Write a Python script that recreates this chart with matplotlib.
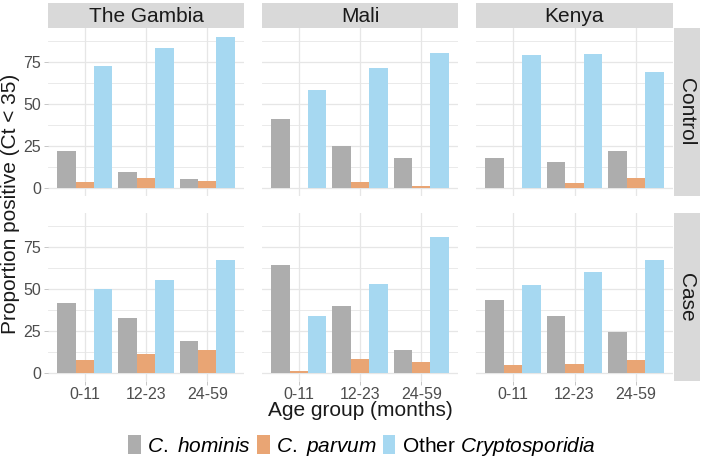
import matplotlib
matplotlib.use("Agg")
import matplotlib.pyplot as plt
from matplotlib.patches import Patch, Rectangle
import numpy as np

plt.rcParams['font.family'] = ['Liberation Sans', 'DejaVu Sans']
plt.rcParams['mathtext.fontset'] = 'custom'
plt.rcParams['mathtext.rm'] = 'Liberation Sans'
plt.rcParams['mathtext.it'] = 'Liberation Sans:italic'

countries = ["The Gambia", "Mali", "Kenya"]
statuses = ["Control", "Case"]
age_groups = ["0-11", "12-23", "24-59"]
species = ["C. hominis", "C. parvum", "Other Cryptosporidia"]
species_labels = [r"$\mathit{C.\ hominis}$", r"$\mathit{C.\ parvum}$",
                  r"Other $\mathit{Cryptosporidia}$"]
colors = ["#ADADAD", "#E9A574", "#A6D8F1"]

# values[status][country] = [hominis list, parvum list, other list] per age group
control_gambia = [[22, 10, 5.8], [3.6, 6.3, 4.2], [73, 83.5, 89.7]]
control_mali = [[41, 25.2, 18], [0.5, 3.6, 1.2], [58.3, 71.4, 80.7]]
control_kenya = [[17.9, 15.5, 22], [0, 3, 6], [79.2, 80.1, 69]]
case_gambia = [[41.9, 33.1, 19.2], [8.1, 11.3, 13.7], [50.2, 55.6, 67.1]]
case_mali = [[64.7, 40.3, 14], [1.4, 8.5, 6.9], [34.3, 53.4, 81.3]]
case_kenya = [[43.8, 33.9, 24.6], [5.2, 5.4, 8.1], [52.6, 60.1, 67.5]]

data = {
    "Control": [control_gambia, control_mali, control_kenya],
    "Case": [case_gambia, case_mali, case_kenya],
}

W, H = 702, 461
fig = plt.figure(figsize=(W / 100, H / 100), dpi=100)

def rect(x0, y0, x1, y1):
    return [x0 / W, 1 - y1 / H, (x1 - x0) / W, (y1 - y0) / H]

col_x = [(48, 244), (262, 458), (476, 673)]
row_y = [(28, 196), (213, 381)]

grid_col = "#E6E6E6"
tick_col = "#4D4D4D"
x = np.arange(1, len(age_groups) + 1)
bw = 0.3
offsets = [-0.3, 0.0, 0.3]

for r, status in enumerate(statuses):
    for c, country in enumerate(countries):
        x0, x1 = col_x[c]
        y0, y1 = row_y[r]
        ax = fig.add_axes(rect(x0, y0, x1, y1))
        vals = data[status][c]
        for s in range(3):
            ax.bar(x + offsets[s], vals[s], width=bw, color=colors[s], zorder=3)
        ax.set_xlim(0.4, 3.6)
        ax.set_ylim(-4.5, 95.3)
        ax.set_yticks([0, 25, 50, 75])
        ax.set_yticks([12.5, 37.5, 62.5, 87.5], minor=True)
        ax.set_xticks(x)
        ax.grid(True, which="major", color=grid_col, lw=0.9, zorder=0)
        ax.grid(True, which="minor", axis="y", color=grid_col, lw=0.6, zorder=0)
        for sp in ax.spines.values():
            sp.set_visible(False)
        ax.tick_params(which="minor", length=0)
        ax.tick_params(which="major", length=3, color="#BDBDBD", width=0.6,
                       labelsize=11.5, labelcolor=tick_col, pad=2)
        ax.tick_params(axis="x", pad=1)
        if c == 0:
            ax.set_yticklabels(["0", "25", "50", "75"])
        else:
            ax.tick_params(axis="y", labelleft=False, length=0)
        if r == 1:
            ax.set_xticklabels(age_groups)
        else:
            ax.tick_params(axis="x", labelbottom=False, length=0)
        if r == 0:
            sax = fig.add_axes(rect(x0, 3, x1, 28))
            sax.set_facecolor("#D9D9D9")
            sax.set_xticks([]); sax.set_yticks([])
            for sp in sax.spines.values():
                sp.set_visible(False)
            sax.text(0.5, 0.47, country, ha="center", va="center", fontsize=15,
                     color="#1A1A1A", transform=sax.transAxes)
    y0, y1 = row_y[r]
    rax = fig.add_axes(rect(674, y0, 700, y1))
    rax.set_facecolor("#D9D9D9")
    rax.set_xticks([]); rax.set_yticks([])
    for sp in rax.spines.values():
        sp.set_visible(False)
    rax.text(0.5, 0.5, status, ha="center", va="center", rotation=-90,
             fontsize=15, color="#1A1A1A", transform=rax.transAxes)

fig.text(11 / W, 1 - 204 / H, "Proportion positive (Ct < 35)", rotation=90,
         ha="center", va="center", fontsize=15, color="#1A1A1A")
fig.text(360 / W, 1 - 416 / H, "Age group (months)", ha="center", va="baseline",
         fontsize=15, color="#1A1A1A")

handles = [Patch(facecolor=col, edgecolor="none") for col in colors]
fig.legend(handles, species_labels, loc="center", bbox_to_anchor=(362 / W, 1 - 446 / H),
           ncol=3, frameon=False, fontsize=15, handlelength=0.6, handleheight=1.05,
           handletextpad=0.3, columnspacing=0.3, borderpad=0, borderaxespad=0)

fig.savefig("out.png", dpi=100, facecolor="white")
